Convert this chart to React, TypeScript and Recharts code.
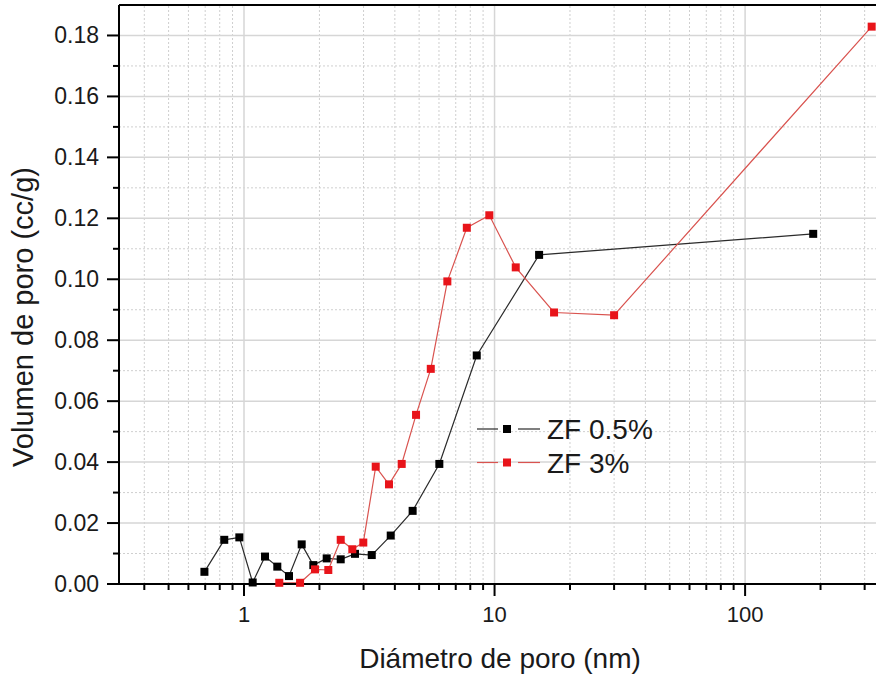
import React from 'react';
import { LineChart, Line, XAxis, YAxis, ReferenceLine } from 'recharts';

// ---- data ----
const seriesNames = ['ZF 0.5%', 'ZF 3%'];

const blackX = [0.695, 0.834, 0.958, 1.083, 1.213, 1.358, 1.512, 1.699, 1.891, 2.138, 2.432, 2.773, 3.235, 3.851, 4.71, 6.02, 8.49, 15.06, 187];
const blackY = [0.004, 0.0145, 0.0153, 0.0005, 0.009, 0.0057, 0.0026, 0.013, 0.0062, 0.0084, 0.0081, 0.0099, 0.0095, 0.0159, 0.024, 0.0394, 0.075, 0.108, 0.1149];

const redX = [1.383, 1.674, 1.92, 2.17, 2.432, 2.706, 2.993, 3.355, 3.79, 4.26, 4.86, 5.565, 6.48, 7.75, 9.53, 12.15, 17.28, 30.0, 320];
const redY = [0.0004, 0.0004, 0.0048, 0.0046, 0.0145, 0.0114, 0.0136, 0.0385, 0.0327, 0.0394, 0.0555, 0.0706, 0.0993, 0.1169, 0.121, 0.1039, 0.0891, 0.0882, 0.1829];

const xMajorTicks = [1, 10, 100];
const xMajorLabels = ['1', '10', '100'];
const xMinorTicks = [0.4, 0.5, 0.6, 0.7, 0.8, 0.9, 2, 3, 4, 5, 6, 7, 8, 9, 20, 30, 40, 50, 60, 70, 80, 90, 200, 300];

const yMajorTicks = [0, 0.02, 0.04, 0.06, 0.08, 0.1, 0.12, 0.14, 0.16, 0.18];
const yMajorLabels = ['0.00', '0.02', '0.04', '0.06', '0.08', '0.10', '0.12', '0.14', '0.16', '0.18'];
const yMinorTicks = [0.01, 0.03, 0.05, 0.07, 0.09, 0.11, 0.13, 0.15, 0.17];

const xDomain = [0.317, 333];
const yDomain = [0, 0.19];

const xTitle = 'Diámetro de poro (nm)';
const yTitle = 'Volumen de poro (cc/g)';

// ---- derived ----
const blackData = blackX.map((x, i) => ({ x, y: blackY[i] }));
const redData = redX.map((x, i) => ({ x, y: redY[i] }));
const allXTicks = [...xMinorTicks, ...xMajorTicks].sort((a, b) => a - b);
const allYTicks = [...yMinorTicks, ...yMajorTicks].sort((a, b) => a - b);

const FONT = '"Liberation Sans", Arial, sans-serif';
const TEXT = '#1a1a1a';
const RED = '#e8141a';
const RED_LINE = '#d9534f';

const XTick = (props: any) => {
  const { x, y, payload } = props;
  const idx = xMajorTicks.indexOf(payload.value);
  const major = idx >= 0;
  return (
    <g>
      <line x1={x} x2={x} y1={y} y2={y + (major ? 12 : 6)} stroke="#000" strokeWidth={2} />
      {major && (
        <text x={x} y={y + 38} textAnchor="middle" fontSize={22} fontFamily={FONT} fill={TEXT}>
          {xMajorLabels[idx]}
        </text>
      )}
    </g>
  );
};

const YTick = (props: any) => {
  const { x, y, payload } = props;
  const idx = yMajorTicks.findIndex((v) => Math.abs(v - payload.value) < 1e-9);
  const major = idx >= 0;
  return (
    <g>
      <line x1={x} x2={x - (major ? 12 : 6)} y1={y} y2={y} stroke="#000" strokeWidth={2} />
      {major && (
        <text x={x - 20} y={y + 8} textAnchor="end" fontSize={23} fontFamily={FONT} fill={TEXT}>
          {yMajorLabels[idx]}
        </text>
      )}
    </g>
  );
};

const makeDot = (fill: string, prefix: string) => (p: any) => (
  <rect key={`${prefix}-${p.index}`} x={p.cx - 4} y={p.cy - 4} width={8} height={8} fill={fill} />
);

export default function App() {
  return (
    <div style={{ position: 'absolute', left: 0, top: 0, width: 876, height: 678, background: '#fff' }}>
      <LineChart width={876} height={678} margin={{ top: 5, right: 0, bottom: 0, left: 0 }}>
        <XAxis
          type="number"
          dataKey="x"
          scale="log"
          domain={xDomain}
          ticks={allXTicks}
          interval={0}
          tickSize={0}
          tickMargin={0}
          tickLine={false}
          tick={XTick}
          axisLine={{ stroke: '#000', strokeWidth: 2 }}
          height={94}
        />
        <YAxis
          type="number"
          dataKey="y"
          domain={yDomain}
          ticks={allYTicks}
          interval={0}
          tickSize={0}
          tickMargin={0}
          tickLine={false}
          tick={YTick}
          axisLine={{ stroke: '#000', strokeWidth: 2 }}
          width={119}
        />
        {xMinorTicks.map((v) => (
          <ReferenceLine key={`xm-${v}`} x={v} stroke="#cfcfcf" strokeWidth={1} strokeDasharray="2 2" />
        ))}
        {yMinorTicks.map((v) => (
          <ReferenceLine key={`ym-${v}`} y={v} stroke="#cfcfcf" strokeWidth={1} strokeDasharray="2 2" />
        ))}
        {xMajorTicks.map((v) => (
          <ReferenceLine key={`xM-${v}`} x={v} stroke="#d6d6d6" strokeWidth={1.5} />
        ))}
        {yMajorTicks.filter((v) => v > 0).map((v) => (
          <ReferenceLine key={`yM-${v}`} y={v} stroke="#d6d6d6" strokeWidth={1.5} />
        ))}
        <ReferenceLine y={yDomain[1]} stroke="#000" strokeWidth={2} />
        <Line
          data={blackData}
          dataKey="y"
          type="linear"
          stroke="#2b2b2b"
          strokeWidth={1.2}
          dot={makeDot('#000', 'b')}
          activeDot={false}
          isAnimationActive={false}
        />
        <Line
          data={redData}
          dataKey="y"
          type="linear"
          stroke={RED_LINE}
          strokeWidth={1.2}
          dot={makeDot(RED, 'r')}
          activeDot={false}
          isAnimationActive={false}
        />
      </LineChart>
      <svg width={876} height={678} style={{ position: 'absolute', left: 0, top: 0, pointerEvents: 'none' }}>
        <text x={500} y={668} textAnchor="middle" fontSize={28} fontFamily={FONT} fill={TEXT}>
          {xTitle}
        </text>
        <text
          x={33}
          y={317}
          textAnchor="middle"
          fontSize={29}
          fontFamily={FONT}
          fill={TEXT}
          transform="rotate(-90 33 317)"
        >
          {yTitle}
        </text>
        {seriesNames.map((name, i) => {
          const cy = 429 + i * 33.5;
          const lc = i === 0 ? '#2b2b2b' : RED_LINE;
          const mc = i === 0 ? '#000' : RED;
          return (
            <g key={name}>
              <line x1={477} x2={498} y1={cy} y2={cy} stroke={lc} strokeWidth={1.2} />
              <rect x={503} y={cy - 4} width={8} height={8} fill={mc} />
              <line x1={518} x2={540} y1={cy} y2={cy} stroke={lc} strokeWidth={1.2} />
              <text x={547} y={cy + 10} fontSize={28} fontFamily={FONT} fill={TEXT}>
                {name}
              </text>
            </g>
          );
        })}
      </svg>
    </div>
  );
}
